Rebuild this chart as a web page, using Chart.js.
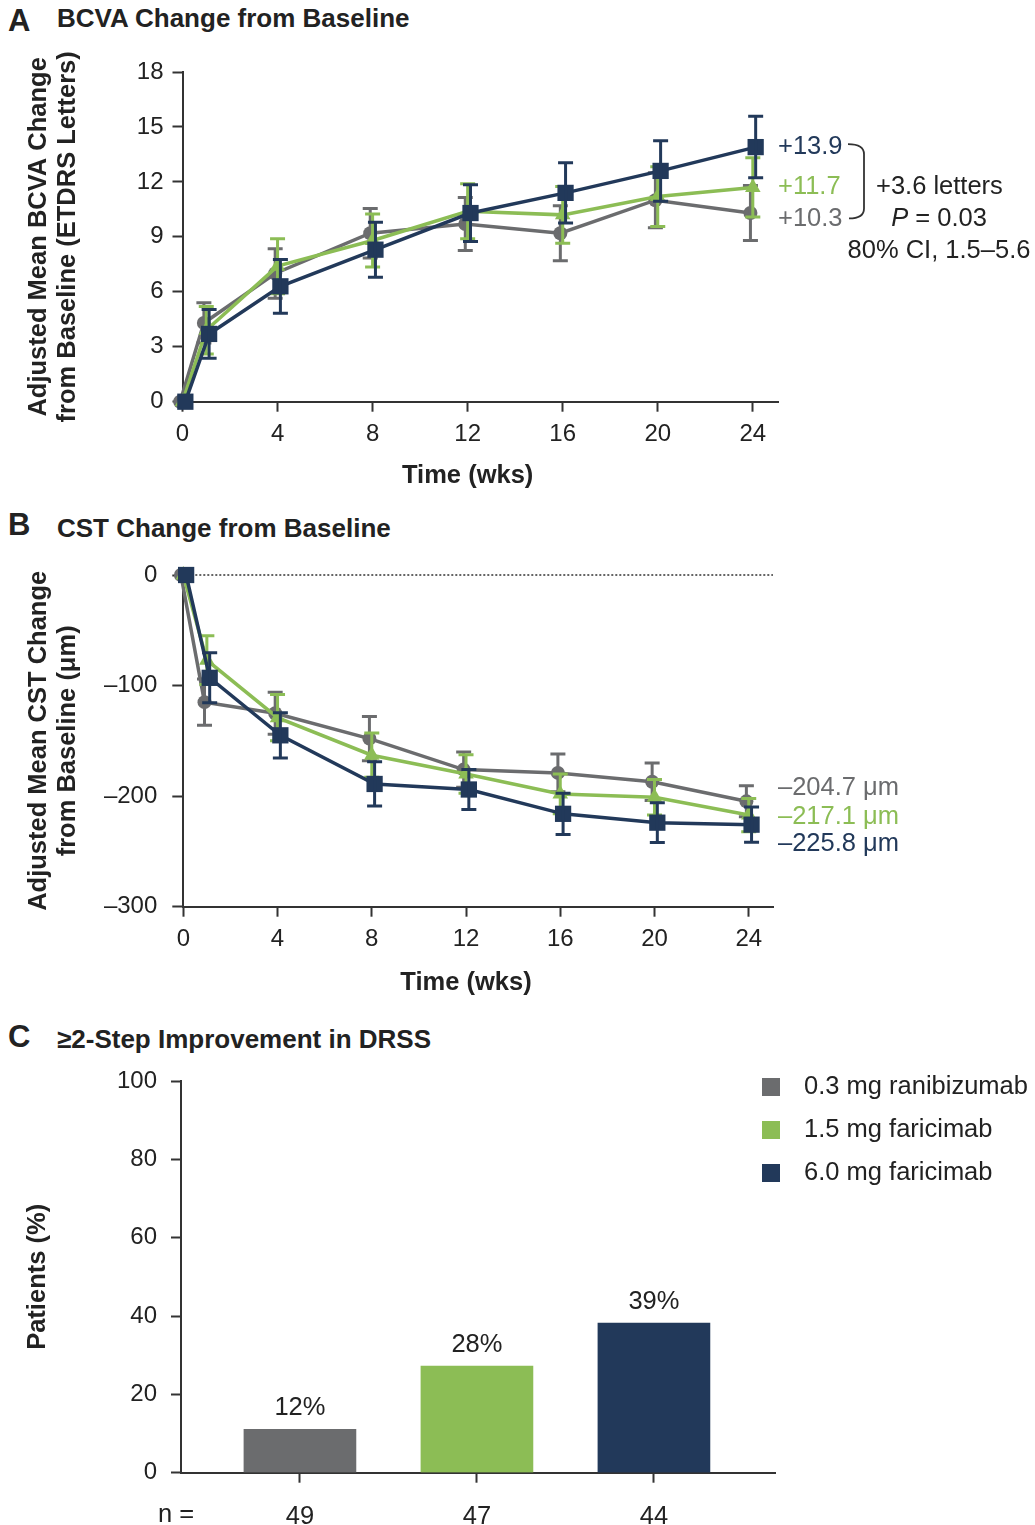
<!DOCTYPE html>
<html>
<head>
<meta charset="utf-8">
<script src="https://cdn.jsdelivr.net/npm/chart.js@4/dist/chart.umd.min.js"></script>
<style>
  html, body { margin: 0; padding: 0; background: #fff; }
  body { width: 1035px; height: 1525px; position: relative; overflow: hidden;
         font-family: "Liberation Sans", Arial, sans-serif; color: #222; }
  .panel { position: absolute; left: 0; width: 1035px; }
  .letter { position: absolute; left: 8px; font-weight: bold; font-size: 31px; line-height: 34px; }
  .title { position: absolute; left: 57px; font-weight: bold; font-size: 26px; line-height: 30px; }
</style>
</head>
<body>
<div class="letter" style="top:4px">A</div>
<div class="title" style="top:3px">BCVA Change from Baseline</div>
<div class="letter" style="top:508px">B</div>
<div class="title" style="top:513px">CST Change from Baseline</div>
<div class="letter" style="top:1020px">C</div>
<div class="title" style="top:1024px">≥2-Step Improvement in DRSS</div>

<div class="panel" style="top:0;height:500px"><canvas id="chartA"></canvas></div>
<div class="panel" style="top:500px;height:510px"><canvas id="chartB"></canvas></div>
<div class="panel" style="top:1010px;height:515px"><canvas id="chartC"></canvas></div>

<script>
// ---- dados ----
const WEEKS = [0, 1, 4, 8, 12, 16, 20, 24];
const WEEK_TICKS = [0, 4, 8, 12, 16, 20, 24];
const GROUPS = ['0.3 mg ranibizumab', '1.5 mg faricimab', '6.0 mg faricimab'];
const COLORS = ['#6b6c6e', '#8cbd55', '#22395a'];

// A: BCVA (letras ETDRS), média ajustada e meia-barra de erro
const BCVA_RANI = [0, 4.3, 7.0, 9.2, 9.7, 9.2, 11.0, 10.3];
const BCVA_RANI_ERR = [0, 1.1, 1.35, 1.35, 1.45, 1.5, 1.5, 1.5];
const BCVA_F15 = [0, 3.9, 7.4, 8.8, 10.4, 10.2, 11.2, 11.7];
const BCVA_F15_ERR = [0, 1.3, 1.5, 1.45, 1.5, 1.55, 1.63, 1.62];
const BCVA_F60 = [0, 3.7, 6.3, 8.3, 10.3, 11.4, 12.6, 13.9];
const BCVA_F60_ERR = [0, 1.33, 1.47, 1.5, 1.55, 1.65, 1.65, 1.68];
const BCVA_END = ['+10.3', '+11.7', '+13.9'];

// B: CST (µm)
const CST_RANI = [0, -115, -125, -148, -176, -179, -187, -204.7];
const CST_RANI_ERR = [0, 21, 19, 20, 16, 17, 17, 14];
const CST_F15 = [0, -77, -129, -163, -180, -198, -201, -217.1];
const CST_F15_ERR = [0, 22, 21, 20, 17.5, 18, 16, 15];
const CST_F60 = [0, -93, -145, -189, -194, -216, -224, -225.8];
const CST_F60_ERR = [0, 22.6, 20.5, 20, 18, 18.6, 18, 16];
const CST_END = ['–204.7 μm', '–217.1 μm', '–225.8 μm'];

// C: melhora >= 2 degraus DRSS
const DRSS_PCT = [11.1, 27.2, 38.2];
const DRSS_LABELS = ['12%', '28%', '39%'];
const DRSS_N = [49, 47, 44];

const FONT = '"Liberation Sans", Arial, sans-serif';
const TXT = '25.5px ' + FONT;
Chart.defaults.font.family = FONT;
Chart.defaults.font.size = 24;
Chart.defaults.color = '#222';
Chart.defaults.animation = false;

const DODGE = [-0.1, 0, 0.12];
const STYLES = ['circle', 'triangle', 'rect'];
const RADII = [7, 9, 11.5];

function lineSets(series, errs) {
  return series.map((vals, i) => ({
    label: GROUPS[i],
    data: WEEKS.map((w, j) => ({ x: w + DODGE[i], y: vals[j] })),
    errors: errs[i],
    borderColor: COLORS[i],
    backgroundColor: COLORS[i],
    borderWidth: 3.5,
    pointStyle: STYLES[i],
    pointRadius: RADII[i],
    pointBorderWidth: 0,
    order: 2 - i,
    clip: false
  }));
}

// barras de erro, desenhadas junto com cada série
const errorBars = {
  id: 'errorBars',
  afterDatasetDraw(chart, args) {
    const ds = chart.data.datasets[args.index];
    if (!ds.errors) return;
    const { ctx, scales: { x, y } } = chart;
    ctx.save();
    ctx.strokeStyle = ds.borderColor;
    ctx.lineWidth = 3;
    ds.data.forEach((p, i) => {
      const e = ds.errors[i];
      if (!e) return;
      const px = x.getPixelForValue(p.x);
      const t = y.getPixelForValue(p.y + e), b = y.getPixelForValue(p.y - e);
      ctx.beginPath();
      ctx.moveTo(px, t); ctx.lineTo(px, b);
      ctx.moveTo(px - 7.5, t); ctx.lineTo(px + 7.5, t);
      ctx.moveTo(px - 7.5, b); ctx.lineTo(px + 7.5, b);
      ctx.stroke();
    });
    ctx.restore();
  }
};

// título do eixo x centrado entre 0 e 24 semanas
function timeTitle(offset) {
  return {
    id: 'timeTitle',
    afterDraw(chart) {
      const { ctx, scales: { x }, chartArea } = chart;
      ctx.save();
      ctx.font = 'bold 25.5px ' + FONT;
      ctx.fillStyle = '#222';
      ctx.textAlign = 'center';
      ctx.textBaseline = 'middle';
      ctx.fillText('Time (wks)', (x.getPixelForValue(0) + x.getPixelForValue(24)) / 2, chartArea.bottom + offset);
      ctx.restore();
    }
  };
}

function weekAxis(height, max) {
  return {
    type: 'linear', min: 0, max: max,
    afterBuildTicks: s => { s.ticks = WEEK_TICKS.map(v => ({ value: v })); },
    afterFit: s => { s.height = height; },
    ticks: { padding: 8, maxRotation: 0 },
    grid: { drawOnChartArea: false, tickLength: 10, tickWidth: 2, tickColor: '#333' },
    border: { color: '#333', width: 2 }
  };
}

// ---- A ----
const endLabelsA = {
  id: 'endLabelsA',
  afterDraw(chart) {
    const { ctx, scales: { y }, chartArea } = chart;
    const navY = y.getPixelForValue(BCVA_F60[BCVA_F60.length - 1]);
    const gY = y.getPixelForValue(BCVA_F15[BCVA_F15.length - 1]);
    const ys = [gY + 32, gY, navY];
    const x0 = chartArea.right;
    ctx.save();
    ctx.font = TXT;
    ctx.textBaseline = 'middle';
    ctx.textAlign = 'left';
    BCVA_END.forEach((t, i) => { ctx.fillStyle = COLORS[i]; ctx.fillText(t, x0, ys[i]); });
    // chave
    ctx.strokeStyle = '#333';
    ctx.lineWidth = 1.8;
    ctx.beginPath();
    const bt = navY - 3, bb = gY + 31;
    ctx.moveTo(x0 + 70, bt);
    ctx.quadraticCurveTo(x0 + 86, bt, x0 + 86, bt + 10);
    ctx.lineTo(x0 + 86, bb - 10);
    ctx.quadraticCurveTo(x0 + 86, bb, x0 + 71, bb);
    ctx.stroke();
    ctx.fillStyle = '#222';
    ctx.fillText('+3.6 letters', x0 + 98, gY);
    const cx = x0 + 161;
    ctx.font = 'italic ' + TXT;
    const pw = ctx.measureText('P').width;
    ctx.font = TXT;
    const rest = ' = 0.03';
    const rw = ctx.measureText(rest).width;
    const sx = cx - (pw + rw) / 2;
    ctx.font = 'italic ' + TXT;
    ctx.fillText('P', sx, gY + 32);
    ctx.font = TXT;
    ctx.fillText(rest, sx + pw, gY + 32);
    ctx.textAlign = 'center';
    ctx.fillText('80% CI, 1.5–5.6', cx, gY + 64);
    ctx.restore();
  }
};

new Chart(document.getElementById('chartA'), {
  type: 'line',
  data: { datasets: lineSets([BCVA_RANI, BCVA_F15, BCVA_F60], [BCVA_RANI_ERR, BCVA_F15_ERR, BCVA_F60_ERR]) },
  options: {
    responsive: true, maintainAspectRatio: false,
    layout: { padding: { top: 72, right: 257, bottom: 0, left: 0 } },
    plugins: { legend: { display: false }, tooltip: { enabled: false } },
    scales: {
      x: weekAxis(98.3, 25.06),
      y: {
        min: 0, max: 18,
        afterFit: s => { s.width = 182.5; },
        ticks: { stepSize: 3, padding: 9 },
        grid: { drawOnChartArea: false, tickLength: 10, tickWidth: 2, tickColor: '#333' },
        border: { color: '#333', width: 2 },
        title: { display: true, text: ['Adjusted Mean BCVA Change', 'from Baseline (ETDRS Letters)'],
                 font: { weight: 'bold', size: 25.5, lineHeight: 1.15 }, padding: { top: 24 } }
      }
    }
  },
  plugins: [errorBars, endLabelsA, timeTitle(74)]
});

// ---- B ----
const zeroLine = {
  id: 'zeroLine',
  beforeDatasetsDraw(chart) {
    const { ctx, scales: { y }, chartArea } = chart;
    const py = y.getPixelForValue(0);
    ctx.save();
    ctx.strokeStyle = '#333';
    ctx.lineWidth = 1.5;
    ctx.setLineDash([2, 2]);
    ctx.beginPath();
    ctx.moveTo(chartArea.left, py); ctx.lineTo(chartArea.right, py);
    ctx.stroke();
    ctx.restore();
  }
};

const endLabelsB = {
  id: 'endLabelsB',
  afterDraw(chart) {
    const { ctx, scales: { y }, chartArea } = chart;
    const gY = y.getPixelForValue(CST_F15[CST_F15.length - 1]);
    const ys = [gY - 27, gY + 2, gY + 29];
    ctx.save();
    ctx.font = TXT;
    ctx.textBaseline = 'middle';
    ctx.textAlign = 'left';
    CST_END.forEach((t, i) => { ctx.fillStyle = COLORS[i]; ctx.fillText(t, chartArea.right + 5, ys[i]); });
    ctx.restore();
  }
};

new Chart(document.getElementById('chartB'), {
  type: 'line',
  data: { datasets: lineSets([CST_RANI, CST_F15, CST_F60], [CST_RANI_ERR, CST_F15_ERR, CST_F60_ERR]) },
  options: {
    responsive: true, maintainAspectRatio: false,
    layout: { padding: { top: 75, right: 262, bottom: 0, left: 0 } },
    plugins: { legend: { display: false }, tooltip: { enabled: false } },
    scales: {
      x: weekAxis(103.3, 25.03),
      y: {
        min: -300, max: 0,
        afterFit: s => { s.width = 183.3; },
        ticks: { stepSize: 100, padding: 15, callback: v => v < 0 ? '–' + Math.abs(v) : String(v) },
        grid: { drawOnChartArea: false, tickLength: 11, tickWidth: 2, tickColor: '#333' },
        border: { color: '#333', width: 2 },
        title: { display: true, text: ['Adjusted Mean CST Change', 'from Baseline (μm)'],
                 font: { weight: 'bold', size: 25.5, lineHeight: 1.15 }, padding: { top: 24 } }
      }
    }
  },
  plugins: [zeroLine, errorBars, endLabelsB, timeTitle(76)]
});

// ---- C ----
const barExtras = {
  id: 'barExtras',
  afterDraw(chart) {
    const { ctx, chartArea } = chart;
    const meta = chart.getDatasetMeta(0);
    ctx.save();
    ctx.font = TXT;
    ctx.fillStyle = '#222';
    ctx.textAlign = 'center';
    ctx.textBaseline = 'middle';
    meta.data.forEach((bar, i) => ctx.fillText(DRSS_LABELS[i], bar.x, bar.y - 21));
    ctx.textAlign = 'left';
    ctx.fillText('n =', 158, chartArea.bottom + 42);
    // legenda
    GROUPS.forEach((g, i) => {
      const ly = 77 + i * 43;
      ctx.fillStyle = COLORS[i];
      ctx.fillRect(762, ly - 9, 18, 18);
      ctx.fillStyle = '#222';
      ctx.fillText(g, 804, ly);
    });
    ctx.restore();
  }
};

new Chart(document.getElementById('chartC'), {
  type: 'bar',
  data: {
    datasets: [{
      data: DRSS_PCT.map((v, i) => ({ x: i + 1, y: v })),
      backgroundColor: COLORS,
      barThickness: 112
    }]
  },
  options: {
    responsive: true, maintainAspectRatio: false,
    layout: { padding: { top: 71, right: 260, bottom: 0, left: 0 } },
    plugins: { legend: { display: false }, tooltip: { enabled: false } },
    scales: {
      x: {
        type: 'linear', min: 0.328, max: 3.684, offset: false,
        afterBuildTicks: s => { s.ticks = DRSS_N.map((n, i) => ({ value: i + 1 })); },
        afterFit: s => { s.height = 52.3; },
        ticks: { padding: 19, maxRotation: 0, callback: v => DRSS_N[v - 1], font: { size: 25.5 } },
        grid: { drawOnChartArea: false, offset: false, tickLength: 10, tickWidth: 2, tickColor: '#333' },
        border: { color: '#333', width: 2 }
      },
      y: {
        min: 0, max: 100,
        afterFit: s => { s.width = 181; },
        ticks: { stepSize: 20, padding: 14 },
        grid: { drawOnChartArea: false, tickLength: 10, tickWidth: 2, tickColor: '#333' },
        border: { color: '#333', width: 2 },
        title: { display: true, text: 'Patients (%)', font: { weight: 'bold', size: 25.5 }, padding: { top: 23 } }
      }
    }
  },
  plugins: [barExtras]
});
</script>
</body>
</html>
